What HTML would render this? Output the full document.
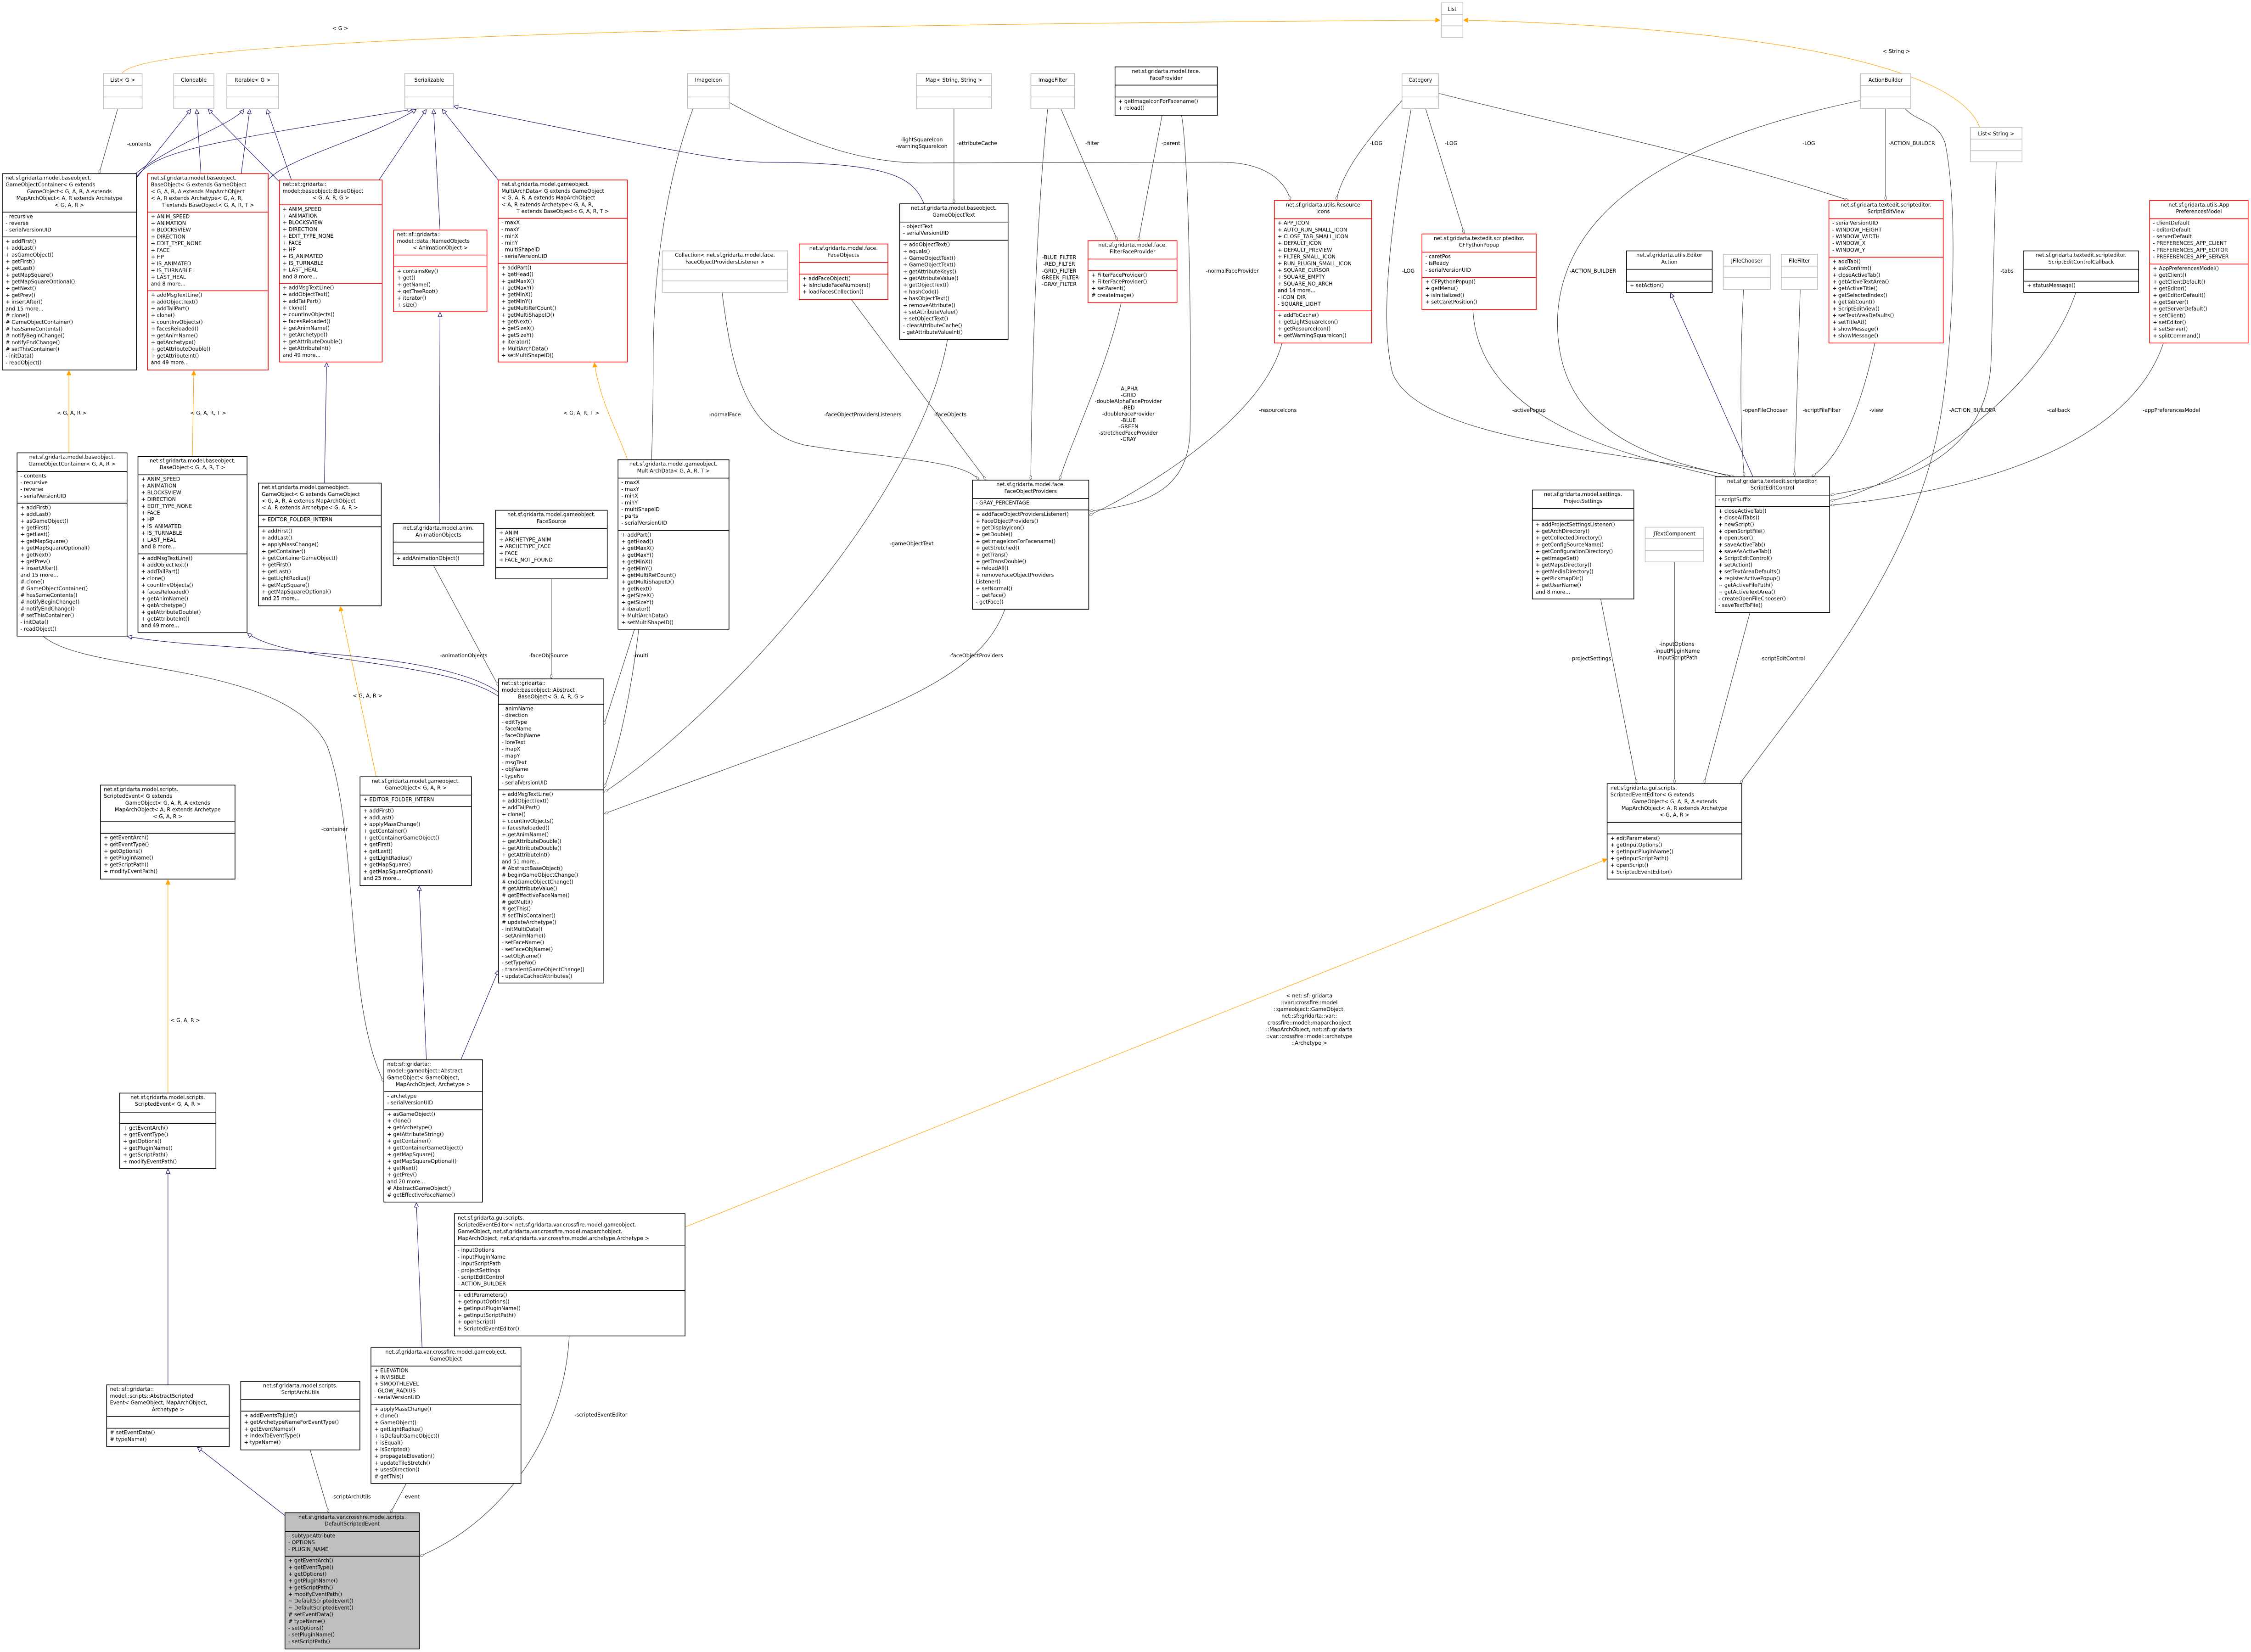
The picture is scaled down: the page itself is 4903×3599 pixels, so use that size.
<!DOCTYPE html>
<html><head><meta charset="utf-8"><style>
html,body{margin:0;padding:0;background:#fff;}
svg{display:block;}
text{font-family:"DejaVu Sans","Liberation Sans",sans-serif;font-size:3.6px;fill:#000;}
.c{text-anchor:middle;}
.lb{font-size:3.6px;}
.k{fill:#fff;stroke:#000;stroke-width:0.5;}
.r{fill:#fff;stroke:#ff0000;stroke-width:0.5;}
.g{fill:#fff;stroke:#bfbfbf;stroke-width:0.5;}
.s{stroke-width:0.5;}
.ek{fill:none;stroke:#404040;stroke-width:0.35;}
.eb{fill:none;stroke:#191970;stroke-width:0.35;}
.eo{fill:none;stroke:#ffa500;stroke-width:0.35;}
</style></head><body>
<svg width="4903" height="3599" viewBox="0 0 1568 1151" preserveAspectRatio="none" xmlns="http://www.w3.org/2000/svg">
<defs>
<marker id="tri" viewBox="0 0 10 10" refX="10" refY="5" markerWidth="3.2" markerHeight="3.2" markerUnits="userSpaceOnUse" orient="auto"><path d="M0.5,0.5 L10,5 L0.5,9.5 Z" fill="#fff" stroke="#191970" stroke-width="1.2"/></marker>
<marker id="dia" viewBox="0 0 12 6" refX="12" refY="3" markerWidth="3.6" markerHeight="1.8" markerUnits="userSpaceOnUse" orient="auto"><path d="M0.3,3 L6,0.3 L11.7,3 L6,5.7 Z" fill="#fff" stroke="#404040" stroke-width="0.8"/></marker>
<marker id="arr" viewBox="0 0 10 10" refX="10" refY="5" markerWidth="3.2" markerHeight="3.2" markerUnits="userSpaceOnUse" orient="auto"><path d="M0,0 L10,5 L0,10 Z" fill="#ffa500" stroke="#ffa500"/></marker>
</defs>
<rect width="1568" height="1151" fill="#fff"/>

<!-- ===== EDGES ===== -->
<g>
<!-- orange -->
<path class="eo" d="M85,51 C100,30 400,18 1003,14" marker-end="url(#arr)"/>
<text class="c" x="237" y="21">&lt; G &gt;</text>
<path class="eo" d="M1379,88.7 C1365,50 1250,20 1019.5,14" marker-end="url(#arr)"/>
<text class="c" x="1321" y="37">&lt; String &gt;</text>
<path class="eo" d="M48,315.5 L48,258.3" marker-end="url(#arr)"/>
<text class="c" x="50" y="289">&lt; G, A, R &gt;</text>
<path class="eo" d="M134,318 L135,258.3" marker-end="url(#arr)"/>
<text class="c" x="145" y="289">&lt; G, A, R, T &gt;</text>
<path class="eo" d="M437,320 C430,300 418,280 414,252.7" marker-end="url(#arr)"/>
<text class="c" x="405" y="289">&lt; G, A, R, T &gt;</text>
<path class="eo" d="M262,541 L237,422.6" marker-end="url(#arr)"/>
<text class="c" x="256" y="486">&lt; G, A, R &gt;</text>
<path class="eo" d="M117,761.6 L117,613" marker-end="url(#arr)"/>
<text class="c" x="129" y="712">&lt; G, A, R &gt;</text>
<path class="eo" d="M477,855 L1119.5,598.5" marker-end="url(#arr)"/>
<text class="c" x="912" y="695">&lt; net::sf::gridarta<tspan x="912" dy="4.7">::var::crossfire::model</tspan><tspan x="912" dy="4.7">::gameobject::GameObject,</tspan><tspan x="912" dy="4.7">net::sf::gridarta::var::</tspan><tspan x="912" dy="4.7">crossfire::model::maparchobject</tspan><tspan x="912" dy="4.7">::MapArchObject, net::sf::gridarta</tspan><tspan x="912" dy="4.7">::var::crossfire::model::archetype</tspan><tspan x="912" dy="4.7">::Archetype &gt;</tspan></text>

<!-- blue inheritance -->
<path class="eb" d="M95,124 L133,76.2" marker-end="url(#tri)"/>
<path class="eb" d="M93,122 C120,100 160,88 170,76.2" marker-end="url(#tri)"/>
<path class="eb" d="M95,123 C110,105 140,100 287,76.2" marker-end="url(#tri)"/>
<path class="eb" d="M140,121 L137,76.2" marker-end="url(#tri)"/>
<path class="eb" d="M168,121 L174,76.2" marker-end="url(#tri)"/>
<path class="eb" d="M187,125 C200,110 260,95 290,76.2" marker-end="url(#tri)"/>
<path class="eb" d="M195,127 L145,76.2" marker-end="url(#tri)"/>
<path class="eb" d="M203,125.4 L186,76.2" marker-end="url(#tri)"/>
<path class="eb" d="M264,125.4 L297,76.2" marker-end="url(#tri)"/>
<path class="eb" d="M306.5,160.3 L302,76.2" marker-end="url(#tri)"/>
<path class="eb" d="M347,125.4 L308,76.2" marker-end="url(#tri)"/>
<path class="eb" d="M643.7,142 C636,125 625,113 531,113 C500,112 470,105 316,74" marker-end="url(#tri)"/>
<path class="eb" d="M347,482 C300,450 150,455 88.8,443.4" marker-end="url(#tri)"/>
<path class="eb" d="M347,485 C310,460 200,462 172.4,441.2" marker-end="url(#tri)"/>
<path class="eb" d="M226,336.6 L227.5,252.6" marker-end="url(#tri)"/>
<path class="eb" d="M306,364.9 L306.5,217.6" marker-end="url(#tri)"/>
<path class="eb" d="M297,738.4 L292,617.4" marker-end="url(#tri)"/>
<path class="eb" d="M321,738.4 L347.2,676" marker-end="url(#tri)"/>
<path class="eb" d="M294,939 L290,838" marker-end="url(#tri)"/>
<path class="eb" d="M117,964.9 L117,814.5" marker-end="url(#tri)"/>
<path class="eb" d="M198.5,1056 L137.5,1008.3" marker-end="url(#tri)"/>
<path class="eb" d="M1221,332 L1163.7,204.2" marker-end="url(#tri)"/>

<!-- associations -->
<path class="ek" d="M82,75.8 L69,121" marker-end="url(#dia)"/>
<text x="88.5" y="101.5">-contents</text>
<path class="ek" d="M508,71.4 C560,100 600,113 640,113.5 L850,113 C880,113 895,125 899,139.7" marker-end="url(#dia)"/>
<text class="c" x="642" y="98.5">-lightSquareIcon</text>
<text class="c" x="642" y="103.2">-warningSquareIcon</text>
<path class="ek" d="M664.5,75.8 L664.5,142" marker-end="url(#dia)"/>
<text x="666.5" y="101">-attributeCache</text>
<path class="ek" d="M729.8,75.8 C722,150 719,250 718,334.5" marker-end="url(#dia)"/>
<text class="c" x="737.8" y="180.5">-BLUE_FILTER<tspan x="737.8" dy="4.7">-RED_FILTER</tspan><tspan x="737.8" dy="4.7">-GRID_FILTER</tspan><tspan x="737.8" dy="4.7">-GREEN_FILTER</tspan><tspan x="737.8" dy="4.7">-GRAY_FILTER</tspan></text>
<path class="ek" d="M739,75.8 L778.5,167.7" marker-end="url(#dia)"/>
<text x="756" y="101">-filter</text>
<path class="ek" d="M809.5,80.3 L793,167.7" marker-end="url(#dia)"/>
<text x="809" y="101">-parent</text>
<path class="ek" d="M823,80.3 C827,100 830,200 829,300 C828,340 800,352 758.6,356" marker-end="url(#dia)"/>
<text x="840" y="190">-normalFaceProvider</text>
<path class="ek" d="M781,210.9 C770,260 745,310 738,334.5" marker-end="url(#dia)"/>
<text class="c" x="786" y="272">-ALPHA<tspan x="786" dy="4.4">-GRID</tspan><tspan x="786" dy="4.4">-doubleAlphaFaceProvider</tspan><tspan x="786" dy="4.4">-RED</tspan><tspan x="786" dy="4.4">-doubleFaceProvider</tspan><tspan x="786" dy="4.4">-BLUE</tspan><tspan x="786" dy="4.4">-GREEN</tspan><tspan x="786" dy="4.4">-stretchedFaceProvider</tspan><tspan x="786" dy="4.4">-GRAY</tspan></text>
<path class="ek" d="M893,239 C880,290 800,340 758.6,359" marker-end="url(#dia)"/>
<text x="877" y="287">-resourceIcons</text>
<path class="ek" d="M660,236.6 C640,350 500,500 420.8,552" marker-end="url(#dia)"/>
<text class="c" x="635" y="380">-gameObjectText</text>
<path class="ek" d="M482.7,75.8 C470,110 455,170 455,250 C455,400 440,500 420.8,549" marker-end="url(#dia)"/>
<text class="c" x="505" y="290">-normalFace</text>
<path class="ek" d="M503,203.7 C510,260 520,300 560,310 C620,320 670,320 682,334.5" marker-end="url(#dia)"/>
<text class="c" x="601" y="290">-faceObjectProvidersListeners</text>
<path class="ek" d="M593,208.6 L687,334.5" marker-end="url(#dia)"/>
<text class="c" x="662" y="290">-faceObjects</text>
<path class="ek" d="M700,424.5 C680,480 600,500 420.8,567" marker-end="url(#dia)"/>
<text class="c" x="680" y="458">-faceObjectProviders</text>
<path class="ek" d="M976.6,70 C950,100 935,120 930.8,139.7" marker-end="url(#dia)"/>
<text class="c" x="958.6" y="101">-LOG</text>
<path class="ek" d="M993,75.6 L1020,163" marker-end="url(#dia)"/>
<text class="c" x="1010.8" y="101">-LOG</text>
<path class="ek" d="M1002,65 C1100,90 1200,110 1288,139.7" marker-end="url(#dia)"/>
<text class="c" x="1260" y="101">-LOG</text>
<path class="ek" d="M983,75.6 C970,150 960,220 970,260 C990,310 1150,315 1205,332" marker-end="url(#dia)"/>
<text class="c" x="981" y="190">-LOG</text>
<path class="ek" d="M1313.5,75.6 L1313.5,139.7" marker-end="url(#dia)"/>
<text x="1315.5" y="101">-ACTION_BUILDER</text>
<path class="ek" d="M1296,70 C1200,90 1090,130 1085,220 C1082,300 1150,320 1208,332" marker-end="url(#dia)"/>
<text class="c" x="1109.6" y="190">-ACTION_BUILDER</text>
<path class="ek" d="M1327,75.6 C1335,85 1350,84 1355,100 C1365,150 1360,250 1350,300 C1330,400 1260,480 1212,546" marker-end="url(#dia)"/>
<text class="c" x="1374" y="287">-ACTION_BUILDER</text>
<path class="ek" d="M1390.5,112.7 L1387,250 C1385,330 1300,340 1274.8,345" marker-end="url(#dia)"/>
<text class="c" x="1398" y="190">-tabs</text>
<path class="ek" d="M1026,215.7 C1030,300 1150,320 1200,333" marker-end="url(#dia)"/>
<text class="c" x="1065" y="287">-activePopup</text>
<path class="ek" d="M1214.5,201.6 C1212,250 1212,300 1215,332" marker-end="url(#dia)"/>
<text class="c" x="1229.6" y="287">-openFileChooser</text>
<path class="ek" d="M1254,201.6 L1250,332" marker-end="url(#dia)"/>
<text class="c" x="1269" y="287">-scriptFileFilter</text>
<path class="ek" d="M1306,239 C1295,290 1280,320 1262,332" marker-end="url(#dia)"/>
<text class="c" x="1307" y="287">-view</text>
<path class="ek" d="M1446,203.8 C1420,280 1320,340 1274.8,349" marker-end="url(#dia)"/>
<text class="c" x="1434" y="287">-callback</text>
<path class="ek" d="M1507,239 C1480,320 1350,345 1274.8,352" marker-end="url(#dia)"/>
<text class="c" x="1512.6" y="287">-appPreferencesModel</text>
<path class="ek" d="M1115,417.3 L1140,546" marker-end="url(#dia)"/>
<text class="c" x="1108" y="460">-projectSettings</text>
<path class="ek" d="M1166.4,391.5 L1166.4,546" marker-end="url(#dia)"/>
<text class="c" x="1168" y="450">-inputOptions<tspan x="1168" dy="4.7">-inputPluginName</tspan><tspan x="1168" dy="4.7">-inputScriptPath</tspan></text>
<path class="ek" d="M1219,426.7 L1187,546" marker-end="url(#dia)"/>
<text x="1226" y="460">-scriptEditControl</text>
<path class="ek" d="M302,394 L347.2,478" marker-end="url(#dia)"/>
<text class="c" x="323" y="458">-animationObjects</text>
<path class="ek" d="M384,403.3 L384,473" marker-end="url(#dia)"/>
<text class="c" x="382" y="458">-faceObjSource</text>
<path class="ek" d="M442,438.4 L420.8,505" marker-end="url(#dia)"/>
<text x="441" y="458">-multi</text>
<path class="ek" d="M30,443.2 C60,470 200,460 228,520 C250,580 240,700 267.4,754" marker-end="url(#dia)"/>
<text class="c" x="233" y="579">-container</text>
<path class="ek" d="M216,1010.2 L229,1054" marker-end="url(#dia)"/>
<text class="c" x="244.6" y="1044">-scriptArchUtils</text>
<path class="ek" d="M283,1033.6 L272,1054" marker-end="url(#dia)"/>
<text class="c" x="286.5" y="1044">-event</text>
<path class="ek" d="M396.5,930.8 C393,1000 350,1060 292.3,1084.3" marker-end="url(#dia)"/>
<text class="c" x="418.6" y="987">-scriptedEventEditor</text>
</g>

<!-- ===== BOXES ===== -->
<!-- top grey boxes -->
<g>
<rect class="g" x="1004" y="2" width="15" height="24"/><line class="s" stroke="#bfbfbf" x1="1004" y1="10" x2="1019" y2="10"/><line class="s" stroke="#bfbfbf" x1="1004" y1="18" x2="1019" y2="18"/><text class="c" x="1011.5" y="7.6">List</text>
<rect class="g" x="72" y="51.3" width="27" height="24.5"/><line stroke="#bfbfbf" stroke-width="0.5" x1="72" y1="59.5" x2="99" y2="59.5"/><line stroke="#bfbfbf" stroke-width="0.5" x1="72" y1="67.6" x2="99" y2="67.6"/><text class="c" x="85.5" y="57">List&lt; G &gt;</text>
<rect class="g" x="121" y="51.3" width="28" height="24.5"/><line stroke="#bfbfbf" stroke-width="0.5" x1="121" y1="59.5" x2="149" y2="59.5"/><line stroke="#bfbfbf" stroke-width="0.5" x1="121" y1="67.6" x2="149" y2="67.6"/><text class="c" x="135" y="57">Cloneable</text>
<rect class="g" x="158" y="51.3" width="36" height="24.5"/><line stroke="#bfbfbf" stroke-width="0.5" x1="158" y1="59.5" x2="194" y2="59.5"/><line stroke="#bfbfbf" stroke-width="0.5" x1="158" y1="67.6" x2="194" y2="67.6"/><text class="c" x="176" y="57">Iterable&lt; G &gt;</text>
<rect class="g" x="282" y="51.3" width="34" height="24.5"/><line stroke="#bfbfbf" stroke-width="0.5" x1="282" y1="59.5" x2="316" y2="59.5"/><line stroke="#bfbfbf" stroke-width="0.5" x1="282" y1="67.6" x2="316" y2="67.6"/><text class="c" x="299" y="57">Serializable</text>
<rect class="g" x="479" y="51.3" width="29" height="24.5"/><line stroke="#bfbfbf" stroke-width="0.5" x1="479" y1="59.5" x2="508" y2="59.5"/><line stroke="#bfbfbf" stroke-width="0.5" x1="479" y1="67.6" x2="508" y2="67.6"/><text class="c" x="493.5" y="57">ImageIcon</text>
<rect class="g" x="638.3" y="51.3" width="52.3" height="24.5"/><line stroke="#bfbfbf" stroke-width="0.5" x1="638.3" y1="59.5" x2="690.6" y2="59.5"/><line stroke="#bfbfbf" stroke-width="0.5" x1="638.3" y1="67.6" x2="690.6" y2="67.6"/><text class="c" x="664.5" y="57">Map&lt; String, String &gt;</text>
<rect class="g" x="718.1" y="51.3" width="30.5" height="24.5"/><line stroke="#bfbfbf" stroke-width="0.5" x1="718.1" y1="59.5" x2="748.6" y2="59.5"/><line stroke="#bfbfbf" stroke-width="0.5" x1="718.1" y1="67.6" x2="748.6" y2="67.6"/><text class="c" x="733.4" y="57">ImageFilter</text>
<rect class="g" x="976.6" y="51.4" width="25.6" height="24.2"/><line stroke="#bfbfbf" stroke-width="0.5" x1="976.6" y1="59.5" x2="1002.2" y2="59.5"/><line stroke="#bfbfbf" stroke-width="0.5" x1="976.6" y1="67.6" x2="1002.2" y2="67.6"/><text class="c" x="989.4" y="57">Category</text>
<rect class="g" x="1296" y="51.4" width="35" height="24.2"/><line stroke="#bfbfbf" stroke-width="0.5" x1="1296" y1="59.5" x2="1331" y2="59.5"/><line stroke="#bfbfbf" stroke-width="0.5" x1="1296" y1="67.6" x2="1331" y2="67.6"/><text class="c" x="1313.5" y="57">ActionBuilder</text>
<rect class="g" x="1372.5" y="88.7" width="36" height="24"/><line stroke="#bfbfbf" stroke-width="0.5" x1="1372.5" y1="96.9" x2="1408.5" y2="96.9"/><line stroke="#bfbfbf" stroke-width="0.5" x1="1372.5" y1="105" x2="1408.5" y2="105"/><text class="c" x="1390.5" y="94.4">List&lt; String &gt;</text>
<rect class="g" x="461.3" y="174.8" width="87.4" height="28.9"/><line stroke="#bfbfbf" stroke-width="0.5" x1="461.3" y1="187.6" x2="548.7" y2="187.6"/><line stroke="#bfbfbf" stroke-width="0.5" x1="461.3" y1="195.7" x2="548.7" y2="195.7"/><text class="c" x="505" y="179">Collection&lt; net.sf.gridarta.model.face.<tspan x="505" dy="4.7">FaceObjectProvidersListener &gt;</tspan></text>
<rect class="g" x="1200.4" y="177.2" width="32.8" height="24.4"/><line stroke="#bfbfbf" stroke-width="0.5" x1="1200.4" y1="185.4" x2="1233.2" y2="185.4"/><line stroke="#bfbfbf" stroke-width="0.5" x1="1200.4" y1="193.3" x2="1233.2" y2="193.3"/><text class="c" x="1216.8" y="182.9">JFileChooser</text>
<rect class="g" x="1240.8" y="177.2" width="25.2" height="24.4"/><line stroke="#bfbfbf" stroke-width="0.5" x1="1240.8" y1="185.4" x2="1266" y2="185.4"/><line stroke="#bfbfbf" stroke-width="0.5" x1="1240.8" y1="193.3" x2="1266" y2="193.3"/><text class="c" x="1253.4" y="182.9">FileFilter</text>
<rect class="g" x="1146" y="367.3" width="40.8" height="24.2"/><line stroke="#bfbfbf" stroke-width="0.5" x1="1146" y1="375.3" x2="1186.8" y2="375.3"/><line stroke="#bfbfbf" stroke-width="0.5" x1="1146" y1="383.6" x2="1186.8" y2="383.6"/><text class="c" x="1166.4" y="373">JTextComponent</text>
</g>

<!-- FaceProvider -->
<rect class="k" x="776.7" y="46.6" width="71.3" height="33.7"/><line class="s" stroke="#000" x1="776.7" y1="59.3" x2="848" y2="59.3"/><line class="s" stroke="#000" x1="776.7" y1="67.6" x2="848" y2="67.6"/>
<text class="c" x="812.3" y="50.9">net.sf.gridarta.model.face.<tspan x="812.3" dy="4.7">FaceProvider</tspan></text>
<text x="779" y="71.8">+ getImageIconForFacename()<tspan x="779" dy="4.7">+ reload()</tspan></text>

<!-- GameObjectContainer top -->
<rect class="k" x="1.6" y="121" width="93.5" height="136.8"/><line class="s" stroke="#000" x1="1.6" y1="147.8" x2="95.1" y2="147.8"/><line class="s" stroke="#000" x1="1.6" y1="165.1" x2="95.1" y2="165.1"/>
<text x="3.9" y="125.2">net.sf.gridarta.model.baseobject.<tspan x="3.9" dy="4.7">GameObjectContainer&lt; G extends</tspan><tspan x="48.3" class="c" dy="4.7" text-anchor="middle">GameObject&lt; G, A, R, A extends</tspan><tspan x="48.3" dy="4.7" text-anchor="middle">MapArchObject&lt; A, R extends Archetype</tspan><tspan x="48.3" dy="4.7" text-anchor="middle">&lt; G, A, R &gt;</tspan></text>
<text x="3.9" y="152">- recursive<tspan x="3.9" dy="4.7">- reverse</tspan><tspan x="3.9" dy="4.7">- serialVersionUID</tspan></text>
<text x="3.9" y="169.3">+ addFirst()<tspan x="3.9" dy="4.7">+ addLast()</tspan><tspan x="3.9" dy="4.7">+ asGameObject()</tspan><tspan x="3.9" dy="4.7">+ getFirst()</tspan><tspan x="3.9" dy="4.7">+ getLast()</tspan><tspan x="3.9" dy="4.7">+ getMapSquare()</tspan><tspan x="3.9" dy="4.7">+ getMapSquareOptional()</tspan><tspan x="3.9" dy="4.7">+ getNext()</tspan><tspan x="3.9" dy="4.7">+ getPrev()</tspan><tspan x="3.9" dy="4.7">+ insertAfter()</tspan><tspan x="3.9" dy="4.7">and 15 more...</tspan><tspan x="3.9" dy="4.7"># clone()</tspan><tspan x="3.9" dy="4.7"># GameObjectContainer()</tspan><tspan x="3.9" dy="4.7"># hasSameContents()</tspan><tspan x="3.9" dy="4.7"># notifyBeginChange()</tspan><tspan x="3.9" dy="4.7"># notifyEndChange()</tspan><tspan x="3.9" dy="4.7"># setThisContainer()</tspan><tspan x="3.9" dy="4.7">- initData()</tspan><tspan x="3.9" dy="4.7">- readObject()</tspan></text>

<!-- BaseObject red -->
<rect class="r" x="102.8" y="121" width="84" height="136.8"/><line class="s" stroke="#ff0000" x1="102.8" y1="147.8" x2="186.8" y2="147.8"/><line class="s" stroke="#ff0000" x1="102.8" y1="202.6" x2="186.8" y2="202.6"/>
<text x="105.1" y="125.2">net.sf.gridarta.model.baseobject.<tspan x="105.1" dy="4.7">BaseObject&lt; G extends GameObject</tspan><tspan x="105.1" dy="4.7">&lt; G, A, R, A extends MapArchObject</tspan><tspan x="105.1" dy="4.7">&lt; A, R extends Archetype&lt; G, A, R,</tspan><tspan x="144.8" dy="4.7" text-anchor="middle">T extends BaseObject&lt; G, A, R, T &gt;</tspan></text>
<text x="105.1" y="152">+ ANIM_SPEED<tspan x="105.1" dy="4.7">+ ANIMATION</tspan><tspan x="105.1" dy="4.7">+ BLOCKSVIEW</tspan><tspan x="105.1" dy="4.7">+ DIRECTION</tspan><tspan x="105.1" dy="4.7">+ EDIT_TYPE_NONE</tspan><tspan x="105.1" dy="4.7">+ FACE</tspan><tspan x="105.1" dy="4.7">+ HP</tspan><tspan x="105.1" dy="4.7">+ IS_ANIMATED</tspan><tspan x="105.1" dy="4.7">+ IS_TURNABLE</tspan><tspan x="105.1" dy="4.7">+ LAST_HEAL</tspan><tspan x="105.1" dy="4.7">and 8 more...</tspan></text>
<text x="105.1" y="206.8">+ addMsgTextLine()<tspan x="105.1" dy="4.7">+ addObjectText()</tspan><tspan x="105.1" dy="4.7">+ addTailPart()</tspan><tspan x="105.1" dy="4.7">+ clone()</tspan><tspan x="105.1" dy="4.7">+ countInvObjects()</tspan><tspan x="105.1" dy="4.7">+ facesReloaded()</tspan><tspan x="105.1" dy="4.7">+ getAnimName()</tspan><tspan x="105.1" dy="4.7">+ getArchetype()</tspan><tspan x="105.1" dy="4.7">+ getAttributeDouble()</tspan><tspan x="105.1" dy="4.7">+ getAttributeInt()</tspan><tspan x="105.1" dy="4.7">and 49 more...</tspan></text>

<!-- net::sf BaseObject<G,A,R,G> red -->
<rect class="r" x="194.6" y="125.4" width="71.6" height="126.8"/><line class="s" stroke="#ff0000" x1="194.6" y1="142.7" x2="266.2" y2="142.7"/><line class="s" stroke="#ff0000" x1="194.6" y1="197.4" x2="266.2" y2="197.4"/>
<text x="196.9" y="129.6">net::sf::gridarta::<tspan x="196.9" dy="4.7">model::baseobject::BaseObject</tspan><tspan x="230.4" dy="4.7" text-anchor="middle">&lt; G, A, R, G &gt;</tspan></text>
<text x="196.9" y="146.9">+ ANIM_SPEED<tspan x="196.9" dy="4.7">+ ANIMATION</tspan><tspan x="196.9" dy="4.7">+ BLOCKSVIEW</tspan><tspan x="196.9" dy="4.7">+ DIRECTION</tspan><tspan x="196.9" dy="4.7">+ EDIT_TYPE_NONE</tspan><tspan x="196.9" dy="4.7">+ FACE</tspan><tspan x="196.9" dy="4.7">+ HP</tspan><tspan x="196.9" dy="4.7">+ IS_ANIMATED</tspan><tspan x="196.9" dy="4.7">+ IS_TURNABLE</tspan><tspan x="196.9" dy="4.7">+ LAST_HEAL</tspan><tspan x="196.9" dy="4.7">and 8 more...</tspan></text>
<text x="196.9" y="201.6">+ addMsgTextLine()<tspan x="196.9" dy="4.7">+ addObjectText()</tspan><tspan x="196.9" dy="4.7">+ addTailPart()</tspan><tspan x="196.9" dy="4.7">+ clone()</tspan><tspan x="196.9" dy="4.7">+ countInvObjects()</tspan><tspan x="196.9" dy="4.7">+ facesReloaded()</tspan><tspan x="196.9" dy="4.7">+ getAnimName()</tspan><tspan x="196.9" dy="4.7">+ getArchetype()</tspan><tspan x="196.9" dy="4.7">+ getAttributeDouble()</tspan><tspan x="196.9" dy="4.7">+ getAttributeInt()</tspan><tspan x="196.9" dy="4.7">and 49 more...</tspan></text>

<!-- NamedObjects red -->
<rect class="r" x="274.2" y="160.3" width="65" height="56.9"/><line class="s" stroke="#ff0000" x1="274.2" y1="177.7" x2="339.2" y2="177.7"/><line class="s" stroke="#ff0000" x1="274.2" y1="185.9" x2="339.2" y2="185.9"/>
<text x="276.5" y="164.5">net::sf::gridarta::<tspan x="276.5" dy="4.7">model::data::NamedObjects</tspan><tspan x="306.7" dy="4.7" text-anchor="middle">&lt; AnimationObject &gt;</tspan></text>
<text x="276.5" y="190.1">+ containsKey()<tspan x="276.5" dy="4.7">+ get()</tspan><tspan x="276.5" dy="4.7">+ getName()</tspan><tspan x="276.5" dy="4.7">+ getTreeRoot()</tspan><tspan x="276.5" dy="4.7">+ iterator()</tspan><tspan x="276.5" dy="4.7">+ size()</tspan></text>

<!-- MultiArchData top red -->
<rect class="r" x="347" y="125.4" width="90" height="126.8"/><line class="s" stroke="#ff0000" x1="347" y1="152.1" x2="437" y2="152.1"/><line class="s" stroke="#ff0000" x1="347" y1="183.5" x2="437" y2="183.5"/>
<text x="349.3" y="129.6">net.sf.gridarta.model.gameobject.<tspan x="349.3" dy="4.7">MultiArchData&lt; G extends GameObject</tspan><tspan x="349.3" dy="4.7">&lt; G, A, R, A extends MapArchObject</tspan><tspan x="349.3" dy="4.7">&lt; A, R extends Archetype&lt; G, A, R,</tspan><tspan x="392" dy="4.7" text-anchor="middle">T extends BaseObject&lt; G, A, R, T &gt;</tspan></text>
<text x="349.3" y="156.3">- maxX<tspan x="349.3" dy="4.7">- maxY</tspan><tspan x="349.3" dy="4.7">- minX</tspan><tspan x="349.3" dy="4.7">- minY</tspan><tspan x="349.3" dy="4.7">- multiShapeID</tspan><tspan x="349.3" dy="4.7">- serialVersionUID</tspan></text>
<text x="349.3" y="187.7">+ addPart()<tspan x="349.3" dy="4.7">+ getHead()</tspan><tspan x="349.3" dy="4.7">+ getMaxX()</tspan><tspan x="349.3" dy="4.7">+ getMaxY()</tspan><tspan x="349.3" dy="4.7">+ getMinX()</tspan><tspan x="349.3" dy="4.7">+ getMinY()</tspan><tspan x="349.3" dy="4.7">+ getMultiRefCount()</tspan><tspan x="349.3" dy="4.7">+ getMultiShapeID()</tspan><tspan x="349.3" dy="4.7">+ getNext()</tspan><tspan x="349.3" dy="4.7">+ getSizeX()</tspan><tspan x="349.3" dy="4.7">+ getSizeY()</tspan><tspan x="349.3" dy="4.7">+ iterator()</tspan><tspan x="349.3" dy="4.7">+ MultiArchData()</tspan><tspan x="349.3" dy="4.7">+ setMultiShapeID()</tspan></text>

<!-- GameObjectText -->
<rect class="k" x="626.7" y="142" width="75.5" height="94.6"/><line class="s" stroke="#000" x1="626.7" y1="154.7" x2="702.2" y2="154.7"/><line class="s" stroke="#000" x1="626.7" y1="167.4" x2="702.2" y2="167.4"/>
<text class="c" x="664.4" y="146.2">net.sf.gridarta.model.baseobject.<tspan x="664.4" dy="4.7">GameObjectText</tspan></text>
<text x="629" y="158.9">- objectText<tspan x="629" dy="4.7">- serialVersionUID</tspan></text>
<text x="629" y="171.6">+ addObjectText()<tspan x="629" dy="4.7">+ equals()</tspan><tspan x="629" dy="4.7">+ GameObjectText()</tspan><tspan x="629" dy="4.7">+ GameObjectText()</tspan><tspan x="629" dy="4.7">+ getAttributeKeys()</tspan><tspan x="629" dy="4.7">+ getAttributeValue()</tspan><tspan x="629" dy="4.7">+ getObjectText()</tspan><tspan x="629" dy="4.7">+ hashCode()</tspan><tspan x="629" dy="4.7">+ hasObjectText()</tspan><tspan x="629" dy="4.7">+ removeAttribute()</tspan><tspan x="629" dy="4.7">+ setAttributeValue()</tspan><tspan x="629" dy="4.7">+ setObjectText()</tspan><tspan x="629" dy="4.7">- clearAttributeCache()</tspan><tspan x="629" dy="4.7">- getAttributeValueInt()</tspan></text>

<!-- FaceObjects red -->
<rect class="r" x="556.7" y="170" width="61.8" height="38.6"/><line class="s" stroke="#ff0000" x1="556.7" y1="182.9" x2="618.5" y2="182.9"/><line class="s" stroke="#ff0000" x1="556.7" y1="191" x2="618.5" y2="191"/>
<text class="c" x="587.6" y="174.2">net.sf.gridarta.model.face.<tspan x="587.6" dy="4.7">FaceObjects</tspan></text>
<text x="559" y="195.2">+ addFaceObject()<tspan x="559" dy="4.7">+ isIncludeFaceNumbers()</tspan><tspan x="559" dy="4.7">+ loadFacesCollection()</tspan></text>

<!-- FilterFaceProvider red -->
<rect class="r" x="757.9" y="167.7" width="62" height="43.2"/><line class="s" stroke="#ff0000" x1="757.9" y1="180.5" x2="819.9" y2="180.5"/><line class="s" stroke="#ff0000" x1="757.9" y1="188.6" x2="819.9" y2="188.6"/>
<text class="c" x="788.9" y="171.9">net.sf.gridarta.model.face.<tspan x="788.9" dy="4.7">FilterFaceProvider</tspan></text>
<text x="760.2" y="192.8">+ FilterFaceProvider()<tspan x="760.2" dy="4.7">+ FilterFaceProvider()</tspan><tspan x="760.2" dy="4.7">+ setParent()</tspan><tspan x="760.2" dy="4.7"># createImage()</tspan></text>

<!-- ResourceIcons red -->
<rect class="r" x="887.7" y="139.7" width="67.8" height="99.3"/><line class="s" stroke="#ff0000" x1="887.7" y1="152.4" x2="955.5" y2="152.4"/><line class="s" stroke="#ff0000" x1="887.7" y1="216.6" x2="955.5" y2="216.6"/>
<text class="c" x="921.6" y="143.9">net.sf.gridarta.utils.Resource<tspan x="921.6" dy="4.7">Icons</tspan></text>
<text x="890" y="156.6">+ APP_ICON<tspan x="890" dy="4.7">+ AUTO_RUN_SMALL_ICON</tspan><tspan x="890" dy="4.7">+ CLOSE_TAB_SMALL_ICON</tspan><tspan x="890" dy="4.7">+ DEFAULT_ICON</tspan><tspan x="890" dy="4.7">+ DEFAULT_PREVIEW</tspan><tspan x="890" dy="4.7">+ FILTER_SMALL_ICON</tspan><tspan x="890" dy="4.7">+ RUN_PLUGIN_SMALL_ICON</tspan><tspan x="890" dy="4.7">+ SQUARE_CURSOR</tspan><tspan x="890" dy="4.7">+ SQUARE_EMPTY</tspan><tspan x="890" dy="4.7">+ SQUARE_NO_ARCH</tspan><tspan x="890" dy="4.7">and 14 more...</tspan><tspan x="890" dy="4.7">- ICON_DIR</tspan><tspan x="890" dy="4.7">- SQUARE_LIGHT</tspan></text>
<text x="890" y="220.8">+ addToCache()<tspan x="890" dy="4.7">+ getLightSquareIcon()</tspan><tspan x="890" dy="4.7">+ getResourceIcon()</tspan><tspan x="890" dy="4.7">+ getWarningSquareIcon()</tspan></text>

<!-- CFPythonPopup red -->
<rect class="r" x="990.5" y="163" width="79.6" height="52.7"/><line class="s" stroke="#ff0000" x1="990.5" y1="175.7" x2="1070.1" y2="175.7"/><line class="s" stroke="#ff0000" x1="990.5" y1="193.3" x2="1070.1" y2="193.3"/>
<text class="c" x="1030.3" y="167.2">net.sf.gridarta.textedit.scripteditor.<tspan x="1030.3" dy="4.7">CFPythonPopup</tspan></text>
<text x="992.8" y="179.9">- caretPos<tspan x="992.8" dy="4.7">- isReady</tspan><tspan x="992.8" dy="4.7">- serialVersionUID</tspan></text>
<text x="992.8" y="197.5">+ CFPythonPopup()<tspan x="992.8" dy="4.7">+ getMenu()</tspan><tspan x="992.8" dy="4.7">+ isInitialized()</tspan><tspan x="992.8" dy="4.7">+ setCaretPosition()</tspan></text>

<!-- Editor Action -->
<rect class="k" x="1133" y="174.8" width="59.7" height="29"/><line class="s" stroke="#000" x1="1133" y1="187.6" x2="1192.7" y2="187.6"/><line class="s" stroke="#000" x1="1133" y1="195.9" x2="1192.7" y2="195.9"/>
<text class="c" x="1162.8" y="179">net.sf.gridarta.utils.Editor<tspan x="1162.8" dy="4.7">Action</tspan></text>
<text x="1135.3" y="200.1">+ setAction()</text>

<!-- ScriptEditView red -->
<rect class="r" x="1274" y="139.7" width="79.6" height="99.3"/><line class="s" stroke="#ff0000" x1="1274" y1="152.4" x2="1353.6" y2="152.4"/><line class="s" stroke="#ff0000" x1="1274" y1="179.2" x2="1353.6" y2="179.2"/>
<text class="c" x="1313.8" y="143.9">net.sf.gridarta.textedit.scripteditor.<tspan x="1313.8" dy="4.7">ScriptEditView</tspan></text>
<text x="1276.3" y="156.6">- serialVersionUID<tspan x="1276.3" dy="4.7">- WINDOW_HEIGHT</tspan><tspan x="1276.3" dy="4.7">- WINDOW_WIDTH</tspan><tspan x="1276.3" dy="4.7">- WINDOW_X</tspan><tspan x="1276.3" dy="4.7">- WINDOW_Y</tspan></text>
<text x="1276.3" y="183.4">+ addTab()<tspan x="1276.3" dy="4.7">+ askConfirm()</tspan><tspan x="1276.3" dy="4.7">+ closeActiveTab()</tspan><tspan x="1276.3" dy="4.7">+ getActiveTextArea()</tspan><tspan x="1276.3" dy="4.7">+ getActiveTitle()</tspan><tspan x="1276.3" dy="4.7">+ getSelectedIndex()</tspan><tspan x="1276.3" dy="4.7">+ getTabCount()</tspan><tspan x="1276.3" dy="4.7">+ ScriptEditView()</tspan><tspan x="1276.3" dy="4.7">+ setTextAreaDefaults()</tspan><tspan x="1276.3" dy="4.7">+ setTitleAt()</tspan><tspan x="1276.3" dy="4.7">+ showMessage()</tspan><tspan x="1276.3" dy="4.7">+ showMessage()</tspan></text>

<!-- Callback -->
<rect class="k" x="1409.7" y="174.8" width="80" height="29"/><line class="s" stroke="#000" x1="1409.7" y1="187.6" x2="1489.7" y2="187.6"/><line class="s" stroke="#000" x1="1409.7" y1="195.9" x2="1489.7" y2="195.9"/>
<text class="c" x="1449.7" y="179">net.sf.gridarta.textedit.scripteditor.<tspan x="1449.7" dy="4.7">ScriptEditControlCallback</tspan></text>
<text x="1412" y="200.1">+ statusMessage()</text>

<!-- AppPreferencesModel red -->
<rect class="r" x="1497.4" y="139.7" width="68.6" height="99.3"/><line class="s" stroke="#ff0000" x1="1497.4" y1="152.4" x2="1566" y2="152.4"/><line class="s" stroke="#ff0000" x1="1497.4" y1="184" x2="1566" y2="184"/>
<text class="c" x="1531.7" y="143.9">net.sf.gridarta.utils.App<tspan x="1531.7" dy="4.7">PreferencesModel</tspan></text>
<text x="1499.7" y="156.6">- clientDefault<tspan x="1499.7" dy="4.7">- editorDefault</tspan><tspan x="1499.7" dy="4.7">- serverDefault</tspan><tspan x="1499.7" dy="4.7">- PREFERENCES_APP_CLIENT</tspan><tspan x="1499.7" dy="4.7">- PREFERENCES_APP_EDITOR</tspan><tspan x="1499.7" dy="4.7">- PREFERENCES_APP_SERVER</tspan></text>
<text x="1499.7" y="188.2">+ AppPreferencesModel()<tspan x="1499.7" dy="4.7">+ getClient()</tspan><tspan x="1499.7" dy="4.7">+ getClientDefault()</tspan><tspan x="1499.7" dy="4.7">+ getEditor()</tspan><tspan x="1499.7" dy="4.7">+ getEditorDefault()</tspan><tspan x="1499.7" dy="4.7">+ getServer()</tspan><tspan x="1499.7" dy="4.7">+ getServerDefault()</tspan><tspan x="1499.7" dy="4.7">+ setClient()</tspan><tspan x="1499.7" dy="4.7">+ setEditor()</tspan><tspan x="1499.7" dy="4.7">+ setServer()</tspan><tspan x="1499.7" dy="4.7">+ splitCommand()</tspan></text>

<!-- GameObjectContainer<G,A,R> -->
<rect class="k" x="11.9" y="315.5" width="76.6" height="127.7"/><line class="s" stroke="#000" x1="11.9" y1="328.5" x2="88.5" y2="328.5"/><line class="s" stroke="#000" x1="11.9" y1="350.6" x2="88.5" y2="350.6"/>
<text class="c" x="50.2" y="319.7">net.sf.gridarta.model.baseobject.<tspan x="50.2" dy="4.7">GameObjectContainer&lt; G, A, R &gt;</tspan></text>
<text x="14.2" y="332.7">- contents<tspan x="14.2" dy="4.7">- recursive</tspan><tspan x="14.2" dy="4.7">- reverse</tspan><tspan x="14.2" dy="4.7">- serialVersionUID</tspan></text>
<text x="14.2" y="354.8">+ addFirst()<tspan x="14.2" dy="4.7">+ addLast()</tspan><tspan x="14.2" dy="4.7">+ asGameObject()</tspan><tspan x="14.2" dy="4.7">+ getFirst()</tspan><tspan x="14.2" dy="4.7">+ getLast()</tspan><tspan x="14.2" dy="4.7">+ getMapSquare()</tspan><tspan x="14.2" dy="4.7">+ getMapSquareOptional()</tspan><tspan x="14.2" dy="4.7">+ getNext()</tspan><tspan x="14.2" dy="4.7">+ getPrev()</tspan><tspan x="14.2" dy="4.7">+ insertAfter()</tspan><tspan x="14.2" dy="4.7">and 15 more...</tspan><tspan x="14.2" dy="4.7"># clone()</tspan><tspan x="14.2" dy="4.7"># GameObjectContainer()</tspan><tspan x="14.2" dy="4.7"># hasSameContents()</tspan><tspan x="14.2" dy="4.7"># notifyBeginChange()</tspan><tspan x="14.2" dy="4.7"># notifyEndChange()</tspan><tspan x="14.2" dy="4.7"># setThisContainer()</tspan><tspan x="14.2" dy="4.7">- initData()</tspan><tspan x="14.2" dy="4.7">- readObject()</tspan></text>

<!-- BaseObject<G,A,R,T> -->
<rect class="k" x="96.1" y="318" width="76" height="122.8"/><line class="s" stroke="#000" x1="96.1" y1="330.8" x2="172.1" y2="330.8"/><line class="s" stroke="#000" x1="96.1" y1="385.9" x2="172.1" y2="385.9"/>
<text class="c" x="134.1" y="322.2">net.sf.gridarta.model.baseobject.<tspan x="134.1" dy="4.7">BaseObject&lt; G, A, R, T &gt;</tspan></text>
<text x="98.4" y="335">+ ANIM_SPEED<tspan x="98.4" dy="4.7">+ ANIMATION</tspan><tspan x="98.4" dy="4.7">+ BLOCKSVIEW</tspan><tspan x="98.4" dy="4.7">+ DIRECTION</tspan><tspan x="98.4" dy="4.7">+ EDIT_TYPE_NONE</tspan><tspan x="98.4" dy="4.7">+ FACE</tspan><tspan x="98.4" dy="4.7">+ HP</tspan><tspan x="98.4" dy="4.7">+ IS_ANIMATED</tspan><tspan x="98.4" dy="4.7">+ IS_TURNABLE</tspan><tspan x="98.4" dy="4.7">+ LAST_HEAL</tspan><tspan x="98.4" dy="4.7">and 8 more...</tspan></text>
<text x="98.4" y="390.1">+ addMsgTextLine()<tspan x="98.4" dy="4.7">+ addObjectText()</tspan><tspan x="98.4" dy="4.7">+ addTailPart()</tspan><tspan x="98.4" dy="4.7">+ clone()</tspan><tspan x="98.4" dy="4.7">+ countInvObjects()</tspan><tspan x="98.4" dy="4.7">+ facesReloaded()</tspan><tspan x="98.4" dy="4.7">+ getAnimName()</tspan><tspan x="98.4" dy="4.7">+ getArchetype()</tspan><tspan x="98.4" dy="4.7">+ getAttributeDouble()</tspan><tspan x="98.4" dy="4.7">+ getAttributeInt()</tspan><tspan x="98.4" dy="4.7">and 49 more...</tspan></text>

<!-- GameObject<G extends> -->
<rect class="k" x="180" y="336.6" width="85.6" height="85.5"/><line class="s" stroke="#000" x1="180" y1="359" x2="265.6" y2="359"/><line class="s" stroke="#000" x1="180" y1="367" x2="265.6" y2="367"/>
<text x="182.3" y="340.8">net.sf.gridarta.model.gameobject.<tspan x="182.3" dy="4.7">GameObject&lt; G extends GameObject</tspan><tspan x="182.3" dy="4.7">&lt; G, A, R, A extends MapArchObject</tspan><tspan x="182.3" dy="4.7">&lt; A, R extends Archetype&lt; G, A, R &gt;</tspan></text>
<text x="182.3" y="363.2">+ EDITOR_FOLDER_INTERN</text>
<text x="182.3" y="371.2">+ addFirst()<tspan x="182.3" dy="4.7">+ addLast()</tspan><tspan x="182.3" dy="4.7">+ applyMassChange()</tspan><tspan x="182.3" dy="4.7">+ getContainer()</tspan><tspan x="182.3" dy="4.7">+ getContainerGameObject()</tspan><tspan x="182.3" dy="4.7">+ getFirst()</tspan><tspan x="182.3" dy="4.7">+ getLast()</tspan><tspan x="182.3" dy="4.7">+ getLightRadius()</tspan><tspan x="182.3" dy="4.7">+ getMapSquare()</tspan><tspan x="182.3" dy="4.7">+ getMapSquareOptional()</tspan><tspan x="182.3" dy="4.7">and 25 more...</tspan></text>

<!-- AnimationObjects -->
<rect class="k" x="273.9" y="364.9" width="63.1" height="29.1"/><line class="s" stroke="#000" x1="273.9" y1="377.7" x2="337" y2="377.7"/><line class="s" stroke="#000" x1="273.9" y1="385.9" x2="337" y2="385.9"/>
<text class="c" x="305.4" y="369.1">net.sf.gridarta.model.anim.<tspan x="305.4" dy="4.7">AnimationObjects</tspan></text>
<text x="276.2" y="390.1">+ addAnimationObject()</text>

<!-- FaceSource -->
<rect class="k" x="345.3" y="355.5" width="77.7" height="47.8"/><line class="s" stroke="#000" x1="345.3" y1="368.3" x2="423" y2="368.3"/><line class="s" stroke="#000" x1="345.3" y1="395.3" x2="423" y2="395.3"/>
<text class="c" x="384.1" y="359.7">net.sf.gridarta.model.gameobject.<tspan x="384.1" dy="4.7">FaceSource</tspan></text>
<text x="347.6" y="372.5">+ ANIM<tspan x="347.6" dy="4.7">+ ARCHETYPE_ANIM</tspan><tspan x="347.6" dy="4.7">+ ARCHETYPE_FACE</tspan><tspan x="347.6" dy="4.7">+ FACE</tspan><tspan x="347.6" dy="4.7">+ FACE_NOT_FOUND</tspan></text>

<!-- MultiArchData<G,A,R,T> -->
<rect class="k" x="430.5" y="320.3" width="77.3" height="118.1"/><line class="s" stroke="#000" x1="430.5" y1="333.1" x2="507.8" y2="333.1"/><line class="s" stroke="#000" x1="430.5" y1="369.6" x2="507.8" y2="369.6"/>
<text class="c" x="469.1" y="324.5">net.sf.gridarta.model.gameobject.<tspan x="469.1" dy="4.7">MultiArchData&lt; G, A, R, T &gt;</tspan></text>
<text x="432.8" y="337.3">- maxX<tspan x="432.8" dy="4.7">- maxY</tspan><tspan x="432.8" dy="4.7">- minX</tspan><tspan x="432.8" dy="4.7">- minY</tspan><tspan x="432.8" dy="4.7">- multiShapeID</tspan><tspan x="432.8" dy="4.7">- parts</tspan><tspan x="432.8" dy="4.7">- serialVersionUID</tspan></text>
<text x="432.8" y="373.8">+ addPart()<tspan x="432.8" dy="4.7">+ getHead()</tspan><tspan x="432.8" dy="4.7">+ getMaxX()</tspan><tspan x="432.8" dy="4.7">+ getMaxY()</tspan><tspan x="432.8" dy="4.7">+ getMinX()</tspan><tspan x="432.8" dy="4.7">+ getMinY()</tspan><tspan x="432.8" dy="4.7">+ getMultiRefCount()</tspan><tspan x="432.8" dy="4.7">+ getMultiShapeID()</tspan><tspan x="432.8" dy="4.7">+ getNext()</tspan><tspan x="432.8" dy="4.7">+ getSizeX()</tspan><tspan x="432.8" dy="4.7">+ getSizeY()</tspan><tspan x="432.8" dy="4.7">+ iterator()</tspan><tspan x="432.8" dy="4.7">+ MultiArchData()</tspan><tspan x="432.8" dy="4.7">+ setMultiShapeID()</tspan></text>

<!-- FaceObjectProviders -->
<rect class="k" x="677.4" y="334.5" width="81" height="90"/><line class="s" stroke="#000" x1="677.4" y1="347.3" x2="758.4" y2="347.3"/><line class="s" stroke="#000" x1="677.4" y1="355.3" x2="758.4" y2="355.3"/>
<text class="c" x="717.9" y="338.7">net.sf.gridarta.model.face.<tspan x="717.9" dy="4.7">FaceObjectProviders</tspan></text>
<text x="679.7" y="351.5">- GRAY_PERCENTAGE</text>
<text x="679.7" y="359.5">+ addFaceObjectProvidersListener()<tspan x="679.7" dy="4.7">+ FaceObjectProviders()</tspan><tspan x="679.7" dy="4.7">+ getDisplayIcon()</tspan><tspan x="679.7" dy="4.7">+ getDouble()</tspan><tspan x="679.7" dy="4.7">+ getImageIconForFacename()</tspan><tspan x="679.7" dy="4.7">+ getStretched()</tspan><tspan x="679.7" dy="4.7">+ getTrans()</tspan><tspan x="679.7" dy="4.7">+ getTransDouble()</tspan><tspan x="679.7" dy="4.7">+ reloadAll()</tspan><tspan x="679.7" dy="4.7">+ removeFaceObjectProviders</tspan><tspan x="679.7" dy="4.7">Listener()</tspan><tspan x="679.7" dy="4.7">+ setNormal()</tspan><tspan x="679.7" dy="4.7">~ getFace()</tspan><tspan x="679.7" dy="4.7">- getFace()</tspan></text>

<!-- ProjectSettings -->
<rect class="k" x="1067.4" y="341.4" width="70.7" height="75.9"/><line class="s" stroke="#000" x1="1067.4" y1="354.3" x2="1138.1" y2="354.3"/><line class="s" stroke="#000" x1="1067.4" y1="362.4" x2="1138.1" y2="362.4"/>
<text class="c" x="1102.7" y="345.6">net.sf.gridarta.model.settings.<tspan x="1102.7" dy="4.7">ProjectSettings</tspan></text>
<text x="1069.7" y="366.6">+ addProjectSettingsListener()<tspan x="1069.7" dy="4.7">+ getArchDirectory()</tspan><tspan x="1069.7" dy="4.7">+ getCollectedDirectory()</tspan><tspan x="1069.7" dy="4.7">+ getConfigSourceName()</tspan><tspan x="1069.7" dy="4.7">+ getConfigurationDirectory()</tspan><tspan x="1069.7" dy="4.7">+ getImageSet()</tspan><tspan x="1069.7" dy="4.7">+ getMapsDirectory()</tspan><tspan x="1069.7" dy="4.7">+ getMediaDirectory()</tspan><tspan x="1069.7" dy="4.7">+ getPickmapDir()</tspan><tspan x="1069.7" dy="4.7">+ getUserName()</tspan><tspan x="1069.7" dy="4.7">and 8 more...</tspan></text>

<!-- ScriptEditControl -->
<rect class="k" x="1194.7" y="332.2" width="79.8" height="94.5"/><line class="s" stroke="#000" x1="1194.7" y1="345" x2="1274.5" y2="345"/><line class="s" stroke="#000" x1="1194.7" y1="353" x2="1274.5" y2="353"/>
<text class="c" x="1234.6" y="336.4">net.sf.gridarta.textedit.scripteditor.<tspan x="1234.6" dy="4.7">ScriptEditControl</tspan></text>
<text x="1197" y="349.2">- scriptSuffix</text>
<text x="1197" y="357.2">+ closeActiveTab()<tspan x="1197" dy="4.7">+ closeAllTabs()</tspan><tspan x="1197" dy="4.7">+ newScript()</tspan><tspan x="1197" dy="4.7">+ openScriptFile()</tspan><tspan x="1197" dy="4.7">+ openUser()</tspan><tspan x="1197" dy="4.7">+ saveActiveTab()</tspan><tspan x="1197" dy="4.7">+ saveAsActiveTab()</tspan><tspan x="1197" dy="4.7">+ ScriptEditControl()</tspan><tspan x="1197" dy="4.7">+ setAction()</tspan><tspan x="1197" dy="4.7">+ setTextAreaDefaults()</tspan><tspan x="1197" dy="4.7">+ registerActivePopup()</tspan><tspan x="1197" dy="4.7">~ getActiveFilePath()</tspan><tspan x="1197" dy="4.7">~ getActiveTextArea()</tspan><tspan x="1197" dy="4.7">- createOpenFileChooser()</tspan><tspan x="1197" dy="4.7">- saveTextToFile()</tspan></text>

<!-- AbstractBaseObject -->
<rect class="k" x="347.2" y="473" width="73.4" height="211.9"/><line class="s" stroke="#000" x1="347.2" y1="490.7" x2="420.6" y2="490.7"/><line class="s" stroke="#000" x1="347.2" y1="550.3" x2="420.6" y2="550.3"/>
<text x="349.5" y="477.2">net::sf::gridarta::<tspan x="349.5" dy="4.7">model::baseobject::Abstract</tspan><tspan x="383.9" dy="4.7" text-anchor="middle">BaseObject&lt; G, A, R, G &gt;</tspan></text>
<text x="349.5" y="494.9">- animName<tspan x="349.5" dy="4.7">- direction</tspan><tspan x="349.5" dy="4.7">- editType</tspan><tspan x="349.5" dy="4.7">- faceName</tspan><tspan x="349.5" dy="4.7">- faceObjName</tspan><tspan x="349.5" dy="4.7">- loreText</tspan><tspan x="349.5" dy="4.7">- mapX</tspan><tspan x="349.5" dy="4.7">- mapY</tspan><tspan x="349.5" dy="4.7">- msgText</tspan><tspan x="349.5" dy="4.7">- objName</tspan><tspan x="349.5" dy="4.7">- typeNo</tspan><tspan x="349.5" dy="4.7">- serialVersionUID</tspan></text>
<text x="349.5" y="554.5">+ addMsgTextLine()<tspan x="349.5" dy="4.7">+ addObjectText()</tspan><tspan x="349.5" dy="4.7">+ addTailPart()</tspan><tspan x="349.5" dy="4.7">+ clone()</tspan><tspan x="349.5" dy="4.7">+ countInvObjects()</tspan><tspan x="349.5" dy="4.7">+ facesReloaded()</tspan><tspan x="349.5" dy="4.7">+ getAnimName()</tspan><tspan x="349.5" dy="4.7">+ getAttributeDouble()</tspan><tspan x="349.5" dy="4.7">+ getAttributeDouble()</tspan><tspan x="349.5" dy="4.7">+ getAttributeInt()</tspan><tspan x="349.5" dy="4.7">and 51 more...</tspan><tspan x="349.5" dy="4.7"># AbstractBaseObject()</tspan><tspan x="349.5" dy="4.7"># beginGameObjectChange()</tspan><tspan x="349.5" dy="4.7"># endGameObjectChange()</tspan><tspan x="349.5" dy="4.7"># getAttributeValue()</tspan><tspan x="349.5" dy="4.7"># getEffectiveFaceName()</tspan><tspan x="349.5" dy="4.7"># getMulti()</tspan><tspan x="349.5" dy="4.7"># getThis()</tspan><tspan x="349.5" dy="4.7"># setThisContainer()</tspan><tspan x="349.5" dy="4.7"># updateArchetype()</tspan><tspan x="349.5" dy="4.7">- initMultiData()</tspan><tspan x="349.5" dy="4.7">- setAnimName()</tspan><tspan x="349.5" dy="4.7">- setFaceName()</tspan><tspan x="349.5" dy="4.7">- setFaceObjName()</tspan><tspan x="349.5" dy="4.7">- setObjName()</tspan><tspan x="349.5" dy="4.7">- setTypeNo()</tspan><tspan x="349.5" dy="4.7">- transientGameObjectChange()</tspan><tspan x="349.5" dy="4.7">- updateCachedAttributes()</tspan></text>

<!-- ScriptedEvent<G extends> -->
<rect class="k" x="70" y="547" width="93.7" height="65.5"/><line class="s" stroke="#000" x1="70" y1="572.5" x2="163.7" y2="572.5"/><line class="s" stroke="#000" x1="70" y1="580.6" x2="163.7" y2="580.6"/>
<text x="72.3" y="551.2">net.sf.gridarta.model.scripts.<tspan x="72.3" dy="4.7">ScriptedEvent&lt; G extends</tspan><tspan x="116.8" dy="4.7" text-anchor="middle">GameObject&lt; G, A, R, A extends</tspan><tspan x="116.8" dy="4.7" text-anchor="middle">MapArchObject&lt; A, R extends Archetype</tspan><tspan x="116.8" dy="4.7" text-anchor="middle">&lt; G, A, R &gt;</tspan></text>
<text x="72.3" y="584.8">+ getEventArch()<tspan x="72.3" dy="4.7">+ getEventType()</tspan><tspan x="72.3" dy="4.7">+ getOptions()</tspan><tspan x="72.3" dy="4.7">+ getPluginName()</tspan><tspan x="72.3" dy="4.7">+ getScriptPath()</tspan><tspan x="72.3" dy="4.7">+ modifyEventPath()</tspan></text>

<!-- ScriptedEventEditor<G extends> -->
<rect class="k" x="1119.5" y="546" width="93.8" height="66.5"/><line class="s" stroke="#000" x1="1119.5" y1="573" x2="1213.3" y2="573"/><line class="s" stroke="#000" x1="1119.5" y1="581" x2="1213.3" y2="581"/>
<text x="1121.8" y="550.2">net.sf.gridarta.gui.scripts.<tspan x="1121.8" dy="4.7">ScriptedEventEditor&lt; G extends</tspan><tspan x="1166.4" dy="4.7" text-anchor="middle">GameObject&lt; G, A, R, A extends</tspan><tspan x="1166.4" dy="4.7" text-anchor="middle">MapArchObject&lt; A, R extends Archetype</tspan><tspan x="1166.4" dy="4.7" text-anchor="middle">&lt; G, A, R &gt;</tspan></text>
<text x="1121.8" y="585.2">+ editParameters()<tspan x="1121.8" dy="4.7">+ getInputOptions()</tspan><tspan x="1121.8" dy="4.7">+ getInputPluginName()</tspan><tspan x="1121.8" dy="4.7">+ getInputScriptPath()</tspan><tspan x="1121.8" dy="4.7">+ openScript()</tspan><tspan x="1121.8" dy="4.7">+ ScriptedEventEditor()</tspan></text>

<!-- GameObject<G,A,R> -->
<rect class="k" x="250.8" y="541.2" width="77.6" height="75.8"/><line class="s" stroke="#000" x1="250.8" y1="554" x2="328.4" y2="554"/><line class="s" stroke="#000" x1="250.8" y1="561.9" x2="328.4" y2="561.9"/>
<text class="c" x="289.6" y="545.4">net.sf.gridarta.model.gameobject.<tspan x="289.6" dy="4.7">GameObject&lt; G, A, R &gt;</tspan></text>
<text x="253.1" y="558.2">+ EDITOR_FOLDER_INTERN</text>
<text x="253.1" y="566.1">+ addFirst()<tspan x="253.1" dy="4.7">+ addLast()</tspan><tspan x="253.1" dy="4.7">+ applyMassChange()</tspan><tspan x="253.1" dy="4.7">+ getContainer()</tspan><tspan x="253.1" dy="4.7">+ getContainerGameObject()</tspan><tspan x="253.1" dy="4.7">+ getFirst()</tspan><tspan x="253.1" dy="4.7">+ getLast()</tspan><tspan x="253.1" dy="4.7">+ getLightRadius()</tspan><tspan x="253.1" dy="4.7">+ getMapSquare()</tspan><tspan x="253.1" dy="4.7">+ getMapSquareOptional()</tspan><tspan x="253.1" dy="4.7">and 25 more...</tspan></text>

<!-- ScriptedEvent<G,A,R> -->
<rect class="k" x="83.4" y="761.6" width="67" height="52.5"/><line class="s" stroke="#000" x1="83.4" y1="774.9" x2="150.4" y2="774.9"/><line class="s" stroke="#000" x1="83.4" y1="782.8" x2="150.4" y2="782.8"/>
<text class="c" x="116.9" y="765.8">net.sf.gridarta.model.scripts.<tspan x="116.9" dy="4.7">ScriptedEvent&lt; G, A, R &gt;</tspan></text>
<text x="85.7" y="787">+ getEventArch()<tspan x="85.7" dy="4.7">+ getEventType()</tspan><tspan x="85.7" dy="4.7">+ getOptions()</tspan><tspan x="85.7" dy="4.7">+ getPluginName()</tspan><tspan x="85.7" dy="4.7">+ getScriptPath()</tspan><tspan x="85.7" dy="4.7">+ modifyEventPath()</tspan></text>

<!-- AbstractGameObject -->
<rect class="k" x="267.4" y="738.4" width="68.7" height="99.1"/><line class="s" stroke="#000" x1="267.4" y1="760.6" x2="336.1" y2="760.6"/><line class="s" stroke="#000" x1="267.4" y1="773.2" x2="336.1" y2="773.2"/>
<text x="269.7" y="742.6">net::sf::gridarta::<tspan x="269.7" dy="4.7">model::gameobject::Abstract</tspan><tspan x="269.7" dy="4.7">GameObject&lt; GameObject,</tspan><tspan x="301.7" dy="4.7" text-anchor="middle">MapArchObject, Archetype &gt;</tspan></text>
<text x="269.7" y="764.8">- archetype<tspan x="269.7" dy="4.7">- serialVersionUID</tspan></text>
<text x="269.7" y="777.4">+ asGameObject()<tspan x="269.7" dy="4.7">+ clone()</tspan><tspan x="269.7" dy="4.7">+ getArchetype()</tspan><tspan x="269.7" dy="4.7">+ getAttributeString()</tspan><tspan x="269.7" dy="4.7">+ getContainer()</tspan><tspan x="269.7" dy="4.7">+ getContainerGameObject()</tspan><tspan x="269.7" dy="4.7">+ getMapSquare()</tspan><tspan x="269.7" dy="4.7">+ getMapSquareOptional()</tspan><tspan x="269.7" dy="4.7">+ getNext()</tspan><tspan x="269.7" dy="4.7">+ getPrev()</tspan><tspan x="269.7" dy="4.7">and 20 more...</tspan><tspan x="269.7" dy="4.7"># AbstractGameObject()</tspan><tspan x="269.7" dy="4.7"># getEffectiveFaceName()</tspan></text>

<!-- ScriptedEventEditor crossfire -->
<rect class="k" x="316.5" y="845.6" width="160.7" height="85.2"/><line class="s" stroke="#000" x1="316.5" y1="868" x2="477.2" y2="868"/><line class="s" stroke="#000" x1="316.5" y1="899.2" x2="477.2" y2="899.2"/>
<text x="318.8" y="849.8">net.sf.gridarta.gui.scripts.<tspan x="318.8" dy="4.7">ScriptedEventEditor&lt; net.sf.gridarta.var.crossfire.model.gameobject.</tspan><tspan x="318.8" dy="4.7">GameObject, net.sf.gridarta.var.crossfire.model.maparchobject.</tspan><tspan x="318.8" dy="4.7">MapArchObject, net.sf.gridarta.var.crossfire.model.archetype.Archetype &gt;</tspan></text>
<text x="318.8" y="872.2">- inputOptions<tspan x="318.8" dy="4.7">- inputPluginName</tspan><tspan x="318.8" dy="4.7">- inputScriptPath</tspan><tspan x="318.8" dy="4.7">- projectSettings</tspan><tspan x="318.8" dy="4.7">- scriptEditControl</tspan><tspan x="318.8" dy="4.7">- ACTION_BUILDER</tspan></text>
<text x="318.8" y="903.4">+ editParameters()<tspan x="318.8" dy="4.7">+ getInputOptions()</tspan><tspan x="318.8" dy="4.7">+ getInputPluginName()</tspan><tspan x="318.8" dy="4.7">+ getInputScriptPath()</tspan><tspan x="318.8" dy="4.7">+ openScript()</tspan><tspan x="318.8" dy="4.7">+ ScriptedEventEditor()</tspan></text>

<!-- GameObject crossfire -->
<rect class="k" x="258.4" y="939" width="104.5" height="94.6"/><line class="s" stroke="#000" x1="258.4" y1="951.8" x2="362.9" y2="951.8"/><line class="s" stroke="#000" x1="258.4" y1="978.7" x2="362.9" y2="978.7"/>
<text class="c" x="310.6" y="943.2">net.sf.gridarta.var.crossfire.model.gameobject.<tspan x="310.6" dy="4.7">GameObject</tspan></text>
<text x="260.7" y="956">+ ELEVATION<tspan x="260.7" dy="4.7">+ INVISIBLE</tspan><tspan x="260.7" dy="4.7">+ SMOOTHLEVEL</tspan><tspan x="260.7" dy="4.7">- GLOW_RADIUS</tspan><tspan x="260.7" dy="4.7">- serialVersionUID</tspan></text>
<text x="260.7" y="982.9">+ applyMassChange()<tspan x="260.7" dy="4.7">+ clone()</tspan><tspan x="260.7" dy="4.7">+ GameObject()</tspan><tspan x="260.7" dy="4.7">+ getLightRadius()</tspan><tspan x="260.7" dy="4.7">+ isDefaultGameObject()</tspan><tspan x="260.7" dy="4.7">+ isEqual()</tspan><tspan x="260.7" dy="4.7">+ isScripted()</tspan><tspan x="260.7" dy="4.7">+ propagateElevation()</tspan><tspan x="260.7" dy="4.7">+ updateTileStretch()</tspan><tspan x="260.7" dy="4.7">+ usesDirection()</tspan><tspan x="260.7" dy="4.7"># getThis()</tspan></text>

<!-- AbstractScriptedEvent -->
<rect class="k" x="74.3" y="964.9" width="85.4" height="43"/><line class="s" stroke="#000" x1="74.3" y1="986.9" x2="159.7" y2="986.9"/><line class="s" stroke="#000" x1="74.3" y1="995.1" x2="159.7" y2="995.1"/>
<text x="76.6" y="969.1">net::sf::gridarta::<tspan x="76.6" dy="4.7">model::scripts::AbstractScripted</tspan><tspan x="76.6" dy="4.7">Event&lt; GameObject, MapArchObject,</tspan><tspan x="117" dy="4.7" text-anchor="middle">Archetype &gt;</tspan></text>
<text x="76.6" y="999.3"># setEventData()<tspan x="76.6" dy="4.7"># typeName()</tspan></text>

<!-- ScriptArchUtils -->
<rect class="k" x="167.7" y="962.4" width="83" height="47.8"/><line class="s" stroke="#000" x1="167.7" y1="975.1" x2="250.7" y2="975.1"/><line class="s" stroke="#000" x1="167.7" y1="983.2" x2="250.7" y2="983.2"/>
<text class="c" x="209.2" y="966.6">net.sf.gridarta.model.scripts.<tspan x="209.2" dy="4.7">ScriptArchUtils</tspan></text>
<text x="170" y="987.4">+ addEventsToJList()<tspan x="170" dy="4.7">+ getArchetypeNameForEventType()</tspan><tspan x="170" dy="4.7">+ getEventNames()</tspan><tspan x="170" dy="4.7">+ indexToEventType()</tspan><tspan x="170" dy="4.7">+ typeName()</tspan></text>

<!-- DefaultScriptedEvent -->
<rect x="198.5" y="1054" width="93.6" height="94.9" fill="#bfbfbf" stroke="#000" stroke-width="0.5"/><line class="s" stroke="#000" x1="198.5" y1="1067" x2="292.1" y2="1067"/><line class="s" stroke="#000" x1="198.5" y1="1084.3" x2="292.1" y2="1084.3"/>
<text class="c" x="245.3" y="1058.2">net.sf.gridarta.var.crossfire.model.scripts.<tspan x="245.3" dy="4.7">DefaultScriptedEvent</tspan></text>
<text x="200.8" y="1071.2">- subtypeAttribute<tspan x="200.8" dy="4.7">- OPTIONS</tspan><tspan x="200.8" dy="4.7">- PLUGIN_NAME</tspan></text>
<text x="200.8" y="1088.5">+ getEventArch()<tspan x="200.8" dy="4.7">+ getEventType()</tspan><tspan x="200.8" dy="4.7">+ getOptions()</tspan><tspan x="200.8" dy="4.7">+ getPluginName()</tspan><tspan x="200.8" dy="4.7">+ getScriptPath()</tspan><tspan x="200.8" dy="4.7">+ modifyEventPath()</tspan><tspan x="200.8" dy="4.7">~ DefaultScriptedEvent()</tspan><tspan x="200.8" dy="4.7">~ DefaultScriptedEvent()</tspan><tspan x="200.8" dy="4.7"># setEventData()</tspan><tspan x="200.8" dy="4.7"># typeName()</tspan><tspan x="200.8" dy="4.7">- setOptions()</tspan><tspan x="200.8" dy="4.7">- setPluginName()</tspan><tspan x="200.8" dy="4.7">- setScriptPath()</tspan></text>
</svg>
</body></html>
